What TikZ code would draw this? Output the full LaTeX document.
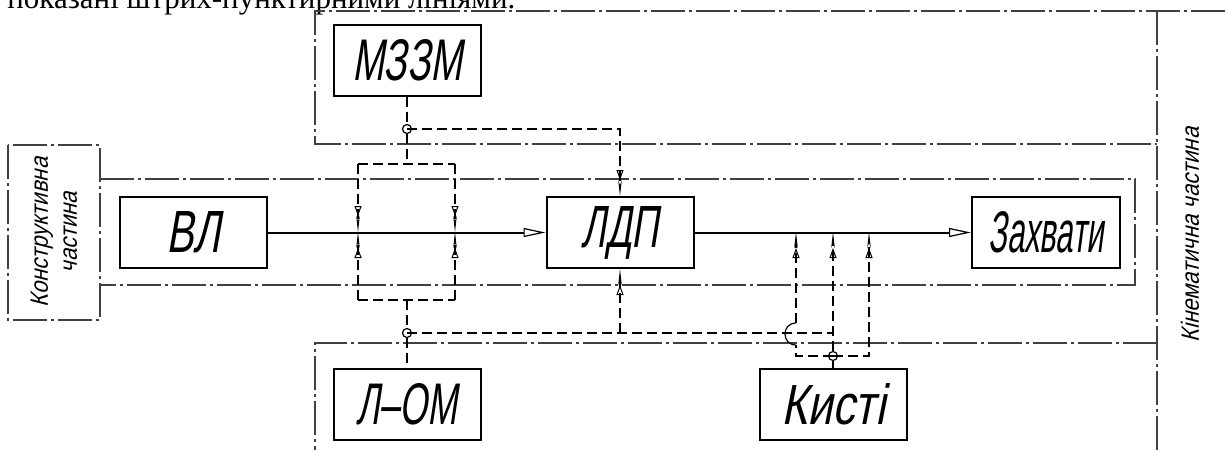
\documentclass[tikz,border=0pt]{standalone}
\usepackage{fontspec}
\usepackage{graphicx}
\usetikzlibrary{arrows.meta,positioning}
\newfontfamily\gostfont[FakeSlant=0.25]{Liberation Sans}
\newfontfamily\gostlabel[FakeSlant=0.25,FakeStretch=0.88]{Liberation Sans}
\newfontfamily\pagefont{Liberation Serif}
% напис у блоці: ширина, висота
\newcommand{\gosttext}[2]{\resizebox{#1}{20.5pt}{#2}}

\begin{document}
\begin{tikzpicture}[x=0.5pt,y=-0.5pt,
  blok/.style={draw,line width=1pt,minimum width=73.5pt,minimum height=35.5pt,inner sep=0pt,
        font=\gostfont\fontsize{28}{30}\selectfont},
  napys/.style={font=\gostlabel\fontsize{12.5}{13.5}\selectfont,align=center,inner sep=0pt},
  osj/.style={draw=black!75,line width=0.6pt,dash pattern=on 17pt off 2pt on 1.5pt off 2pt},
  zvj/.style={line width=0.6pt,dash pattern=on 5pt off 2.5pt},
  dija/.style={-{Triangle[open,length=5pt,width=3.5pt,line width=0.5pt]Stealth[length=8pt,width=1.8pt]}},
  potik/.style={line width=1pt,-{Triangle[open,length=11pt,width=4.5pt,line width=0.6pt]}},
  vuzol/.style={draw,circle,line width=0.6pt,inner sep=0pt,minimum size=4.5pt}]
  \useasboundingbox (0,0) rectangle (1225,450);
  \clip (0,0) rectangle (1225,450);
  % рядок тексту сторінки над схемою
  \node[anchor=base west,inner sep=0pt]
        (txt) at (7,8) {\resizebox{254pt}{!}{\pagefont\fontsize{14}{16}\selectfont показані штрих-пунктирними лініями.}};
  % кінематична частина (штрих-пунктир)
  \draw[osj] (1225,11) -- (315,11) -- (315,144) -- (1157,144);
  \draw[osj] (1157,11) -- (1157,450);
  \draw[osj] (1157,343) -- (315,343) -- (315,450);
  \node[napys,rotate=90] (kin) at (1190,235) {Кінематична частина};
  % конструктивна частина
  \node[osj,rotate=90,minimum width=87.5pt,minimum height=46pt,inner sep=0pt,
        font=\gostlabel\fontsize{12.5}{14.5}\selectfont,align=center]
        (kon) at (54,232.5) {Конструктивна\\частина};
  \draw[osj] (100,179) -- (1135,179) -- (1135,285) -- (100,285);
  % блоки
  \node[blok] (vl)    at (193.5,232.5) {\gosttext{27pt}{ВЛ}};
  \node[blok] (ldp)   at (620,232.5)   {\gosttext{38.5pt}{ЛДП}};
  \node[blok,minimum width=74pt] (zakh) at (1046,232.5) {\gosttext{57.5pt}{Захвати}};
  \node[blok] (mzzm)  at (407,60)      {\gosttext{55pt}{МЗЗМ}};
  \node[blok] (lom)   at (407,404)     {\gosttext{50.5pt}{Л–ОМ}};
  \node[blok] (kysti) at (833,404)     {\gosttext{52pt}{Кисті}};
  % головний потік
  \draw[potik] (vl) -- (ldp);
  \draw[potik] (ldp) -- (zakh);
  % вузли
  \node[vuzol] (c1) at (407,129) {};
  \node[vuzol] (c2) at (407,333) {};
  \node[vuzol] (c3) at (833,356) {};
  \coordinate (a1) at (358,164); \coordinate (a2) at (455,164);
  \coordinate (a3) at (358,300); \coordinate (a4) at (455,300);
  \coordinate (t1) at (407,164); \coordinate (t2) at (407,300);
  \coordinate (m1) at (358,232); \coordinate (m2) at (455,232);
  \coordinate (m3) at (796,232); \coordinate (m4) at (833,232);
  \coordinate (m5) at (869,232);
  \coordinate (j1) at (620,129); \coordinate (j2) at (620,333);
  \coordinate (j3) at (833,333);
  \coordinate (h1) at (796,356); \coordinate (h2) at (869,356);
  \coordinate (hb) at (796,345); \coordinate (ht) at (796,323);
  % керування від МЗЗМ
  \draw[zvj] (mzzm) -- (c1);
  \draw[zvj] (c1) -- (t1);
  \draw[zvj,dija] (c1.center) -- (j1) -- (ldp.north);
  \draw[zvj] (a1) -- (a2);
  \draw[zvj] (a3) -- (a4);
  \draw[zvj,dija] (a1) -- (m1);
  \draw[zvj,dija] (a3) -- (m1);
  \draw[zvj,dija] (a2) -- (m2);
  \draw[zvj,dija] (a4) -- (m2);
  % керування від Л-ОМ
  \draw[zvj] (t2) -- (c2);
  \draw[zvj] (c2) -- (lom);
  \draw[zvj] (c2.center) -- (j3);
  \draw[zvj,dija] (j2) -- (ldp.south);
  % кисті
  \draw[line width=0.6pt] (c3) -- (kysti);
  \draw[zvj,dija] (c3) -- (m4);
  \draw[zvj,dija] (c3.center) -- (h2) -- (m5);
  \draw[zvj] (c3.center) -- (h1) -- (hb);
  \draw[line width=0.6pt] (hb) .. controls (781.3,345) and (781.3,323) .. (ht);
  \draw[zvj,dija] (ht) -- (m3);
\end{tikzpicture}
\end{document}
